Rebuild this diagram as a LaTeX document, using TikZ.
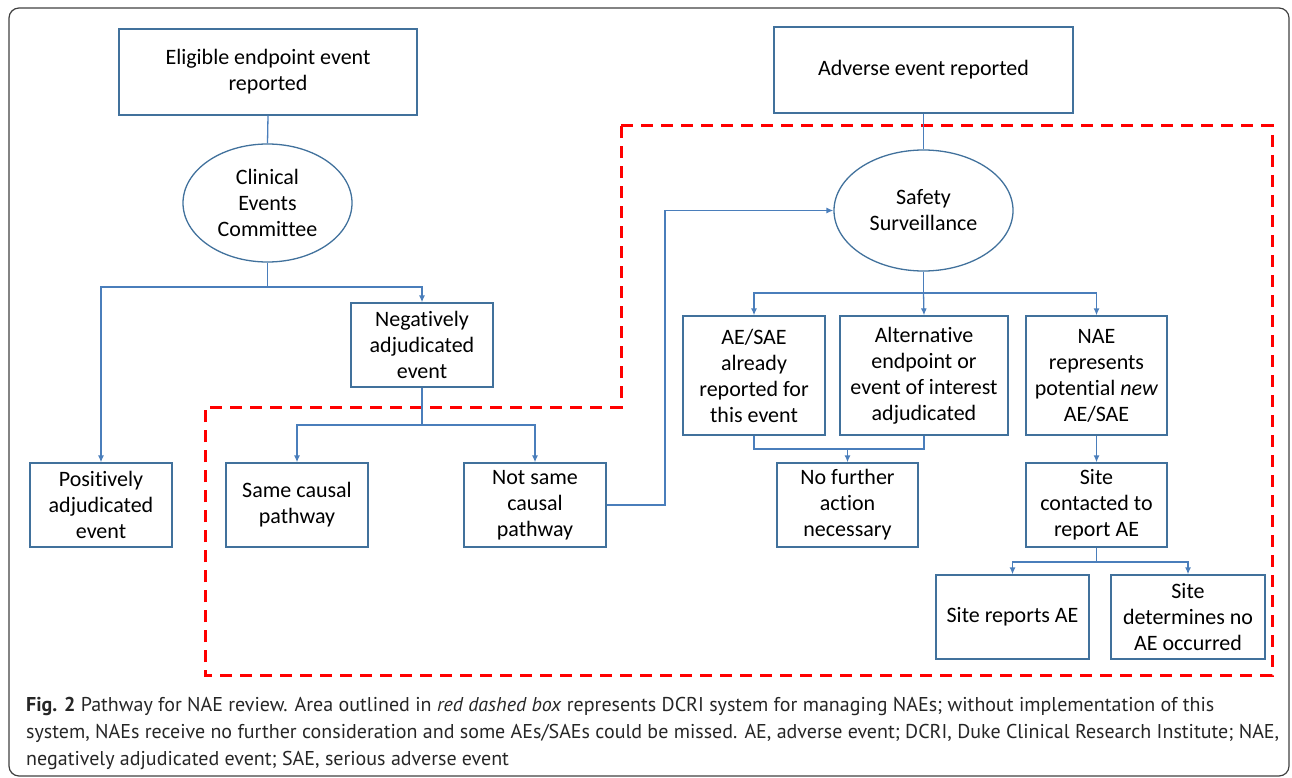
\documentclass[tikz,border=0pt]{standalone}
\usepackage{fontspec}
\setmainfont{Carlito}[Ligatures=NoCommon]
\newfontfamily\capfont{PT Sans}
\usetikzlibrary{arrows.meta,shapes.geometric}
\definecolor{bl}{HTML}{41719C}
\definecolor{ln}{HTML}{4A7EBB}
\begin{document}
\begin{tikzpicture}[x=1pt,y=-1pt,font=\fontsize{22}{26}\selectfont,
  box/.style={draw=bl, line width=1.3pt, align=center, inner sep=0pt},
  oval/.style={draw=bl, line width=1.3pt, ellipse, align=center, inner sep=0pt},
  conn/.style={draw=ln, line width=1.3pt},
  arr/.style={conn, -{Latex[length=7pt,width=6pt]}},
  capline/.style={anchor=base west, inner sep=0pt, text=black!85, font=\capfont\fontsize{20}{27}\selectfont}]
\useasboundingbox (0,0) rectangle (1292,778);
\draw[black!75, line width=1.2pt, rounded corners=10pt] (9,8) rectangle (1289,776);
% red dashed area
\draw[red, line width=3pt, dash pattern=on 12pt off 8pt] (621,126) -- (1272,126) -- (1272,675) -- (205,675) -- (205,407) -- (621,407) -- cycle;
% nodes
\node[box, minimum width=298pt, minimum height=86pt] (elig) at (268,72) {Eligible endpoint event\\reported};
\node[oval, minimum width=169pt, minimum height=118pt] (cec) at (267.5,203) {Clinical\\Events\\Committee};
\node[box, minimum width=142pt, minimum height=84pt] (neg) at (422,345) {Negatively\\adjudicated\\event};
\node[box, minimum width=142pt, minimum height=84pt] (pos) at (101,505) {Positively\\adjudicated\\event};
\node[box, minimum width=142pt, minimum height=84pt] (same) at (297,505) {Same causal\\pathway};
\node[box, minimum width=142pt, minimum height=84pt] (notsame) at (535,505) {Not same\\causal\\pathway};
\node[box, minimum width=299pt, minimum height=86pt] (adv) at (923.5,70) {Adverse event reported};
\node[oval, minimum width=179pt, minimum height=121pt] (ss) at (923.5,210.5) {Safety\\Surveillance};
\node[box, minimum width=142pt, minimum height=119pt] (aesae) at (754,375.5) {AE/SAE\\already\\reported for\\this event};
\node[box, minimum width=168pt, minimum height=119pt] (alt) at (924,375.5) {Alternative\\endpoint or\\event of interest\\adjudicated};
\node[box, minimum width=141pt, minimum height=119pt] (nae) at (1096.5,375.5) {NAE\\represents\\potential \textit{new}\\AE/SAE};
\node[box, minimum width=141pt, minimum height=84pt] (nofur) at (847.5,505) {No further\\action\\necessary};
\node[box, minimum width=141pt, minimum height=84pt] (site) at (1096.5,505) {Site\\contacted to\\report AE};
\node[box, minimum width=153pt, minimum height=84pt] (srep) at (1012.5,617) {Site reports AE};
\node[box, minimum width=154pt, minimum height=84pt] (sdet) at (1188,617) {Site\\determines no\\AE occurred};
% junctions
\coordinate (j1) at (267.5,287);
\coordinate (j2) at (422,425);
\coordinate (j3) at (923.5,293);
\coordinate (j4) at (847.5,449);
\coordinate (j5) at (1096.5,562);
\coordinate (k1) at (665,505);
% connectors
\draw[conn] (elig.south) -- (cec.north);
\draw[conn] (cec.south) -- (j1);
\draw[arr] (j1) -| (pos.north);
\draw[arr] (j1) -| (neg.north);
\draw[conn] (neg.south) -- (j2);
\draw[arr] (j2) -| (same.north);
\draw[arr] (j2) -| (notsame.north);
\draw[arr] (notsame.east) -- (k1) |- (ss.west);
\draw[conn] (adv.south) -- (ss.north);
\draw[conn] (ss.south) -- (j3);
\draw[arr] (j3) -| (aesae.north);
\draw[arr] (j3) -- (alt.north);
\draw[arr] (j3) -| (nae.north);
\draw[conn] (aesae.south) |- (j4) -| (alt.south);
\draw[arr] (j4) -- (nofur.north);
\draw[arr] (nae.south) -- (site.north);
\draw[conn] (site.south) -- (j5);
\draw[arr] (j5) -| (srep.north);
\draw[arr] (j5) -| (sdet.north);
% caption
\node[capline] (cap1) at (26,711) {\textbf{Fig. 2} Pathway for NAE review. Area outlined in \textit{red dashed box} represents DCRI system for managing NAEs; without implementation of this};
\node[capline] (cap2) at (26,738) {system, NAEs receive no further consideration and some AEs/SAEs could be missed. AE, adverse event; DCRI, Duke Clinical Research Institute; NAE,};
\node[capline] (cap3) at (26,765) {negatively adjudicated event; SAE, serious adverse event};
\end{tikzpicture}
\end{document}
